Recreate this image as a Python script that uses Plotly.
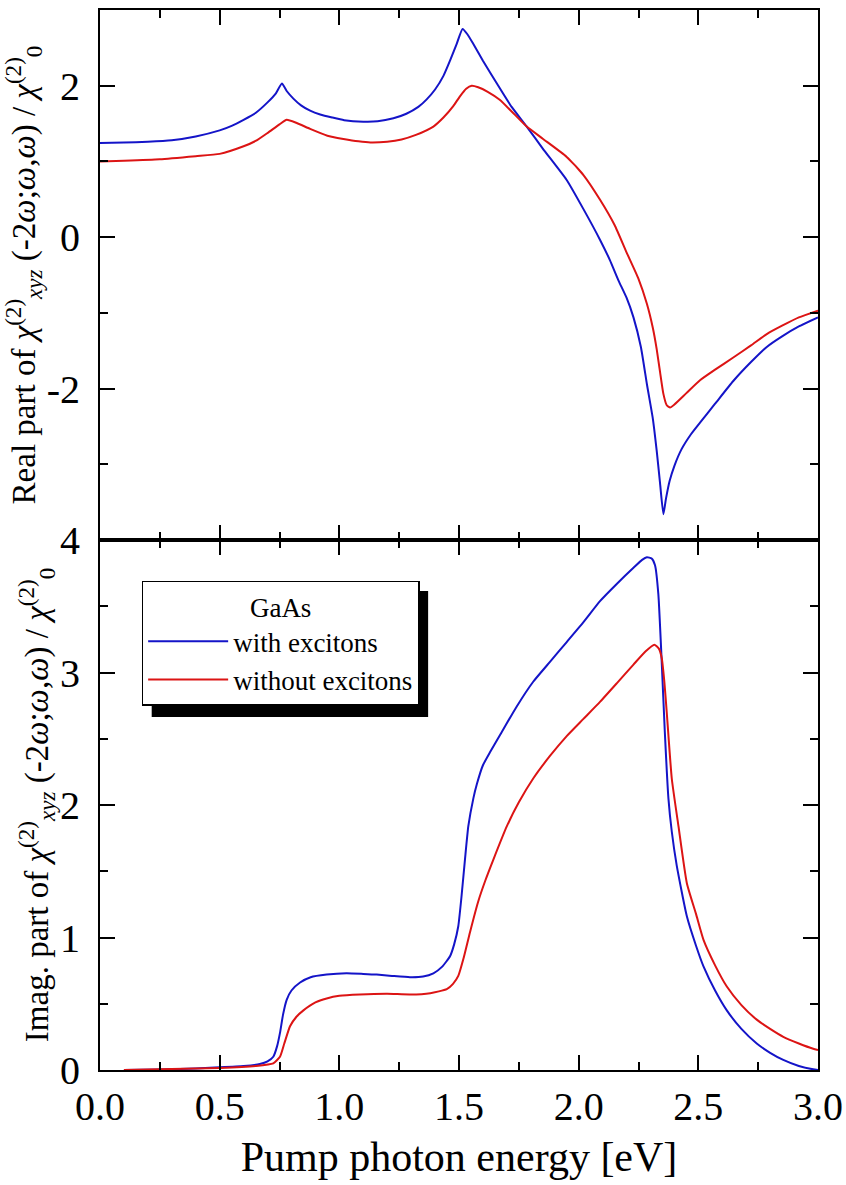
import plotly.graph_objects as go
from plotly.subplots import make_subplots

# ---- data ----
re_with_x = [0.0, 0.1, 0.2, 0.3, 0.4, 0.5, 0.55, 0.6, 0.65, 0.7, 0.735, 0.76, 0.78, 0.808, 0.84,
             0.878, 0.92, 0.97, 1.02, 1.10, 1.16, 1.226, 1.28, 1.33, 1.365, 1.40, 1.435, 1.465,
             1.49, 1.515, 1.535, 1.56, 1.6, 1.67, 1.72, 1.783, 1.85, 1.95, 2.02, 2.09, 2.13,
             2.166, 2.2, 2.229, 2.26, 2.285, 2.31, 2.326, 2.34, 2.354, 2.365, 2.38, 2.40, 2.43,
             2.47, 2.507, 2.57, 2.646, 2.72, 2.786, 2.85, 2.92, 3.0]
re_with_y = [1.245, 1.25, 1.26, 1.28, 1.33, 1.41, 1.47, 1.55, 1.64, 1.78, 1.90, 2.03, 1.93, 1.83, 1.74,
             1.67, 1.62, 1.58, 1.545, 1.525, 1.53, 1.57, 1.63, 1.72, 1.82, 1.95, 2.13, 2.35,
             2.55, 2.75, 2.68, 2.55, 2.33, 1.97, 1.72, 1.46, 1.17, 0.755, 0.37, -0.04, -0.3,
             -0.57, -0.8, -1.06, -1.45, -1.94, -2.4, -2.82, -3.25, -3.66, -3.45, -3.22, -3.02, -2.80,
             -2.60, -2.45, -2.20, -1.90, -1.65, -1.45, -1.31, -1.18, -1.06]

re_without_x = [0.0, 0.1, 0.25, 0.4, 0.5, 0.6, 0.65, 0.7, 0.75, 0.78, 0.82, 0.878, 0.95, 1.017,
                1.08, 1.13, 1.2, 1.26, 1.32, 1.393, 1.435, 1.476, 1.504, 1.53, 1.553, 1.58, 1.62,
                1.67, 1.72, 1.783, 1.85, 1.95, 2.02, 2.09, 2.15, 2.2, 2.25, 2.285, 2.31, 2.326,
                2.34, 2.354, 2.368, 2.382, 2.40, 2.45, 2.507, 2.57, 2.646, 2.72, 2.786, 2.85,
                2.92, 3.0]
re_without_y = [1.0, 1.01, 1.03, 1.07, 1.10, 1.20, 1.27, 1.376, 1.49, 1.55, 1.51, 1.43, 1.34, 1.297,
                1.265, 1.25, 1.26, 1.29, 1.35, 1.46, 1.58, 1.73, 1.86, 1.96, 2.0, 1.98, 1.92,
                1.815, 1.66, 1.46, 1.30, 1.06, 0.82, 0.49, 0.16, -0.20, -0.55, -0.88, -1.20, -1.48,
                -1.78, -2.07, -2.22, -2.25, -2.21, -2.06, -1.89, -1.75, -1.59, -1.43, -1.28, -1.17,
                -1.06, -0.97]

im_with_x = [0.1, 0.3, 0.5, 0.6, 0.668, 0.70, 0.724, 0.74, 0.752, 0.765, 0.78, 0.80, 0.836, 0.88,
             0.947, 1.03, 1.10, 1.156, 1.22, 1.295, 1.35, 1.393, 1.43, 1.463, 1.48, 1.497, 1.51,
             1.525, 1.539, 1.56, 1.575, 1.60, 1.63, 1.672, 1.74, 1.81, 1.88, 1.95, 2.02, 2.09, 2.16,
             2.229, 2.265, 2.285, 2.305, 2.319, 2.333, 2.347, 2.36, 2.375, 2.389, 2.41, 2.452,
             2.49, 2.522, 2.57, 2.619, 2.68, 2.744, 2.8, 2.855, 2.92, 2.98, 3.0]
im_with_y = [0.0, 0.005, 0.02, 0.03, 0.045, 0.065, 0.10, 0.18, 0.28, 0.42, 0.53, 0.60, 0.66, 0.70,
             0.72, 0.73, 0.725, 0.72, 0.71, 0.70, 0.705, 0.73, 0.78, 0.86, 0.95, 1.085, 1.3,
             1.59, 1.84, 2.05, 2.16, 2.30, 2.40, 2.53, 2.74, 2.93, 3.08, 3.23, 3.38, 3.54, 3.67,
             3.79, 3.85, 3.87, 3.86, 3.81, 3.59, 3.08, 2.55, 2.05, 1.80, 1.54, 1.16,
             0.94, 0.78, 0.60, 0.45, 0.31, 0.20, 0.13, 0.076, 0.03, 0.005, 0.0]

im_without_x = [0.1, 0.5, 0.65, 0.724, 0.752, 0.77, 0.794, 0.82, 0.85, 0.9, 0.947, 1.0, 1.086, 1.2,
                1.295, 1.38, 1.449, 1.475, 1.497, 1.52, 1.546, 1.58, 1.61, 1.644, 1.7, 1.75, 1.81,
                1.88, 1.95, 2.02, 2.09, 2.16, 2.229, 2.28, 2.316, 2.335, 2.347, 2.358, 2.368,
                2.389, 2.417, 2.452, 2.49, 2.522, 2.57, 2.619, 2.68, 2.744, 2.8, 2.855, 2.92,
                2.98, 3.0]
im_without_y = [0.0, 0.015, 0.03, 0.05, 0.10, 0.2, 0.33, 0.40, 0.45, 0.51, 0.54, 0.56, 0.57, 0.575,
                0.57, 0.58, 0.61, 0.65, 0.71, 0.85, 1.04, 1.27, 1.43, 1.59, 1.84, 2.02, 2.20,
                2.37, 2.52, 2.65, 2.78, 2.92, 3.06, 3.16, 3.21, 3.18, 3.11, 2.93, 2.70,
                2.20, 1.84, 1.41, 1.18, 0.98, 0.79, 0.63, 0.49, 0.38, 0.31, 0.25, 0.20,
                0.16, 0.15]

series_names = ["with excitons", "without excitons"]
legend_title = "GaAs"
x_ticks = [0.0, 0.5, 1.0, 1.5, 2.0, 2.5, 3.0]
x_ticktext = ["0.0", "0.5", "1.0", "1.5", "2.0", "2.5", "3.0"]
top_yticks = [-2, 0, 2]
top_yticktext = ["-2", "0", "2"]
bot_yticks = [0, 1, 2, 3, 4]
bot_yticktext = ["0", "1", "2", "3", "4"]

BLUE = "#1414c8"
RED = "#dc1414"
FONT = "Liberation Serif"

fig = make_subplots(rows=2, cols=1, shared_xaxes=False, vertical_spacing=0)

line_kw = dict(width=2, shape="spline", smoothing=0.5)
fig.add_trace(go.Scatter(x=re_with_x, y=re_with_y, mode="lines", line=dict(color=BLUE, **line_kw),
                         name=series_names[0], showlegend=False), row=1, col=1)
fig.add_trace(go.Scatter(x=re_without_x, y=re_without_y, mode="lines", line=dict(color=RED, **line_kw),
                         name=series_names[1], showlegend=False), row=1, col=1)
fig.add_trace(go.Scatter(x=im_with_x, y=im_with_y, mode="lines", line=dict(color=BLUE, **line_kw),
                         name=series_names[0]), row=2, col=1)
fig.add_trace(go.Scatter(x=im_without_x, y=im_without_y, mode="lines", line=dict(color=RED, **line_kw),
                         name=series_names[1]), row=2, col=1)

axis_common = dict(showline=True, linecolor="black", linewidth=2, mirror="ticks",
                   ticks="inside", ticklen=15, tickwidth=2, tickcolor="black",
                   showgrid=False, zeroline=False, automargin=False,
                   tickfont=dict(family=FONT, size=40, color="black"))
minor_x = dict(dtick=0.25, tick0=0, ticks="inside", ticklen=8, tickwidth=2, tickcolor="black", showgrid=False)

fig.update_xaxes(range=[0, 3], tickmode="array", tickvals=x_ticks, ticktext=x_ticktext,
                 minor=minor_x, **axis_common)
fig.update_xaxes(showticklabels=False, row=1, col=1)
fig.update_xaxes(title=dict(text="Pump photon energy [eV]", font=dict(family=FONT, size=42, color="black"),
                            standoff=14), row=2, col=1)

title_top = ("Real part of <i>χ</i><sup>(2)</sup><sub><i>xyz</i></sub> (-2<i>ω</i>;<i>ω</i>,<i>ω</i>) / "
             "<i>χ</i><sup>(2)</sup><sub>0</sub>")
title_bot = ("Imag. part of <i>χ</i><sup>(2)</sup><sub><i>xyz</i></sub> (-2<i>ω</i>;<i>ω</i>,<i>ω</i>) / "
             "<i>χ</i><sup>(2)</sup><sub>0</sub>")

fig.update_yaxes(range=[-4, 3], tickmode="array", tickvals=top_yticks, ticktext=top_yticktext,
                 minor=dict(tickmode="array", tickvals=[-3, -1, 1], ticks="inside", ticklen=8,
                            tickwidth=2, tickcolor="black", showgrid=False),
                 ticklabelstandoff=10,
                 title=dict(text=title_top, font=dict(family=FONT, size=33, color="black"), standoff=0),
                 row=1, col=1, **axis_common)
fig.update_yaxes(range=[0, 4], tickmode="array", tickvals=bot_yticks, ticktext=bot_yticktext,
                 minor=dict(tickmode="array", tickvals=[0.5, 1.5, 2.5, 3.5], ticks="inside", ticklen=8,
                            tickwidth=2, tickcolor="black", showgrid=False),
                 ticklabelstandoff=10,
                 title=dict(text=title_bot, font=dict(family=FONT, size=33, color="black"), standoff=0),
                 row=2, col=1, **axis_common)

fig.update_layout(
    width=846, height=1185,
    margin=dict(l=100, r=28, t=10, b=115),
    paper_bgcolor="white", plot_bgcolor="white",
    font=dict(family=FONT, color="black"),
    legend=dict(x=0.058, y=0.4616, xanchor="left", yanchor="top",
                bgcolor="white", bordercolor="black", borderwidth=1.5,
                font=dict(family=FONT, size=27, color="black"),
                title=dict(text=legend_title, side="top center", font=dict(family=FONT, size=27)),
                itemwidth=80, tracegroupgap=0),
)
# legend drop shadow (offset ~10 px right and down from the legend box)
fig.add_shape(type="rect", xref="paper", yref="paper", x0=0.072, x1=0.457, y0=0.333, y1=0.452,
              fillcolor="black", line=dict(width=0), layer="above")

fig.write_html("out.html")
